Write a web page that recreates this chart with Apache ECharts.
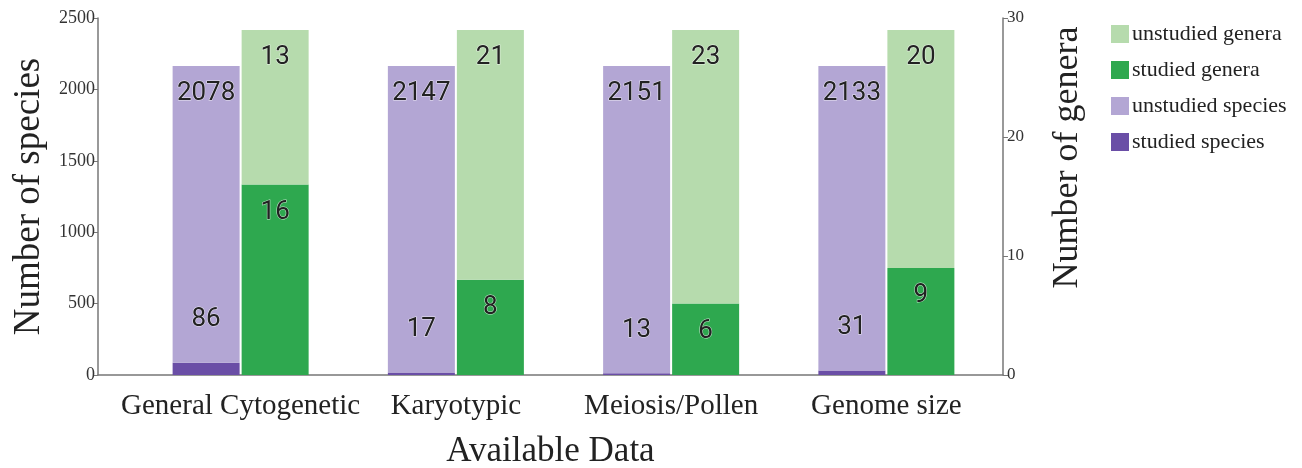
<!DOCTYPE html>
<html>
<head>
<meta charset="utf-8">
<script src="https://cdn.jsdelivr.net/npm/echarts@6/dist/echarts.min.js"></script>
<style>
  html, body { margin: 0; padding: 0; background: #fff; }
  #chart { width: 1302px; height: 468px; }
</style>
</head>
<body>
<div id="chart"></div>
<script>
// data
var categories = ['General Cytogenetic', 'Karyotypic', 'Meiosis/Pollen', 'Genome size'];
var studiedSpecies = [86, 17, 13, 31];
var unstudiedSpecies = [2078, 2147, 2151, 2133];
var studiedGenera = [16, 8, 6, 9];
var unstudiedGenera = [13, 21, 23, 20];
var speciesTicks = [0, 2500, 500];
var generaTicks = [0, 30, 10];

var serif = 'Liberation Serif';
var numLabel = {
    show: true,
    fontFamily: 'Roboto',
    fontSize: 26,
    color: '#222',
    textBorderColor: 'rgba(255,255,255,0.7)',
    textBorderWidth: 1
};

function label(pos, dist) {
    return Object.assign({}, numLabel, { position: pos, distance: dist });
}

var chart = echarts.init(document.getElementById('chart'));

var option = {
    animation: false,
    legend: {
        orient: 'vertical',
        left: 1106,
        top: 18,
        icon: 'rect',
        itemWidth: 18,
        itemHeight: 18,
        itemGap: 14,
        textStyle: { fontFamily: serif, fontSize: 22, color: '#222', padding: [0, 0, 0, -2] },
        data: ['unstudied genera', 'studied genera', 'unstudied species', 'studied species']
    },
    grid: [
        { left: 133, right: 308, top: 18, bottom: 93, outerBoundsMode: 'none' },
        { left: 98, right: 299, top: 18, bottom: 93, outerBoundsMode: 'none' }
    ],
    xAxis: [
        {
            type: 'category',
            gridIndex: 0,
            data: categories,
            axisLine: { show: false },
            axisTick: { show: false },
            axisLabel: { fontFamily: serif, fontSize: 29, color: '#222', margin: 17, interval: 0 }
        },
        {
            type: 'category',
            gridIndex: 1,
            data: [],
            name: 'Available Data',
            nameLocation: 'middle',
            nameGap: 59,
            nameTextStyle: { fontFamily: serif, fontSize: 35, color: '#222' },
            axisLine: { onZero: false, lineStyle: { color: '#777', width: 1.5 } },
            axisTick: { show: false },
            axisLabel: { show: false }
        }
    ],
    yAxis: [
        {
            type: 'value',
            gridIndex: 0,
            min: speciesTicks[0],
            max: speciesTicks[1],
            interval: speciesTicks[2],
            offset: 35,
            name: 'Number of species',
            nameLocation: 'middle',
            nameGap: 48,
            nameTextStyle: { fontFamily: serif, fontSize: 37, color: '#222' },
            axisLine: { show: true, lineStyle: { color: '#777', width: 1.5 } },
            axisTick: { show: true, length: 5, lineStyle: { color: '#777' } },
            axisLabel: { fontFamily: serif, fontSize: 18, color: '#333', margin: 3, formatter: function (v) { return String(v); } },
            splitLine: { show: false }
        },
        {
            type: 'value',
            gridIndex: 0,
            position: 'right',
            min: generaTicks[0],
            max: generaTicks[1],
            interval: generaTicks[2],
            offset: 9,
            name: 'Number of genera',
            nameLocation: 'middle',
            nameRotate: 90,
            nameGap: 47,
            nameTextStyle: { fontFamily: serif, fontSize: 36, color: '#222', padding: [0, 0, 0, 78] },
            axisLine: { show: true, lineStyle: { color: '#777', width: 1.5 } },
            axisTick: { show: true, length: 5, lineStyle: { color: '#777' } },
            axisLabel: { fontFamily: serif, fontSize: 17, color: '#333', margin: 4 },
            splitLine: { show: false }
        },
        { type: 'value', gridIndex: 1, show: false }
    ],
    series: [
        {
            name: 'studied species',
            type: 'bar',
            stack: 'species',
            yAxisIndex: 0,
            barWidth: 67,
            barGap: '3%',
            itemStyle: { color: '#6a4ea6' },
            label: label('top', 30),
            data: studiedSpecies
        },
        {
            name: 'unstudied species',
            type: 'bar',
            stack: 'species',
            yAxisIndex: 0,
            barWidth: 67,
            barGap: '3%',
            itemStyle: { color: '#b3a6d4' },
            label: label('insideTop', 15),
            data: unstudiedSpecies
        },
        {
            name: 'studied genera',
            type: 'bar',
            stack: 'genera',
            yAxisIndex: 1,
            barWidth: 67,
            barGap: '3%',
            itemStyle: { color: '#2ea84f' },
            label: label('insideTop', 15),
            data: studiedGenera
        },
        {
            name: 'unstudied genera',
            type: 'bar',
            stack: 'genera',
            yAxisIndex: 1,
            barWidth: 67,
            barGap: '3%',
            itemStyle: { color: '#b6dbad' },
            label: label('insideTop', 15),
            data: unstudiedGenera
        }
    ]
};

chart.setOption(option);
</script>
</body>
</html>
